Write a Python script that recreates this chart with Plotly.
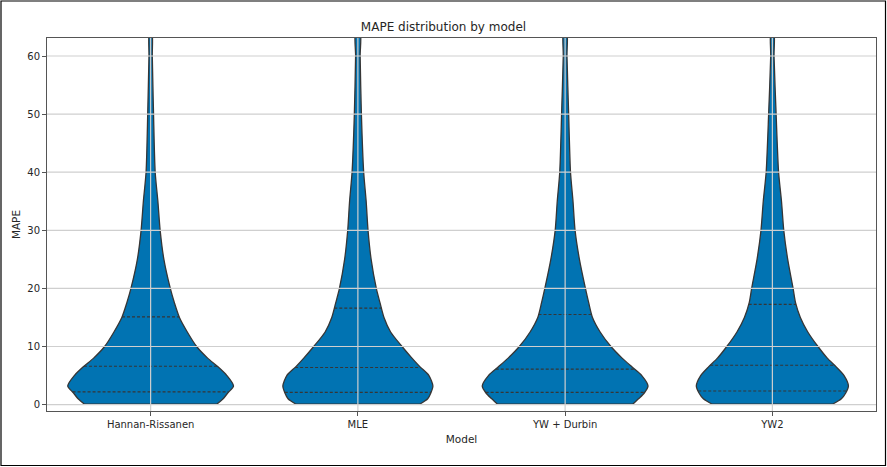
import numpy as np
import plotly.graph_objects as go

# Violin profiles (half-width in category units at each MAPE level)
models = ["Hannan-Rissanen", "MLE", "YW + Durbin", "YW2"]
mape_levels = [0.1, 1, 2, 3.2, 5, 6.5, 8, 10, 12.5, 15, 17.5, 20, 25, 30, 35, 40, 50, 60, 64]

hw_hannan = [0.320, 0.350, 0.372, 0.400, 0.368, 0.325, 0.275, 0.222, 0.177, 0.139, 0.115,
             0.095, 0.064, 0.046, 0.035, 0.022, 0.014, 0.008, 0.006]
hw_mle = [0.300, 0.337, 0.352, 0.362, 0.343, 0.300, 0.261, 0.213, 0.158, 0.126, 0.107,
          0.089, 0.064, 0.049, 0.040, 0.028, 0.017, 0.011, 0.011]
hw_ywd = [0.327, 0.354, 0.382, 0.400, 0.370, 0.322, 0.275, 0.221, 0.169, 0.132, 0.114,
          0.098, 0.069, 0.048, 0.038, 0.026, 0.017, 0.009, 0.008]
hw_yw2 = [0.292, 0.333, 0.354, 0.367, 0.346, 0.308, 0.265, 0.220, 0.171, 0.135, 0.112,
          0.100, 0.074, 0.055, 0.044, 0.030, 0.018, 0.008, 0.007]

# quartiles (Q1, median, Q3) per model
quartiles = {
    "Hannan-Rissanen": [2.2, 6.6, 15.1],
    "MLE": [2.1, 6.4, 16.6],
    "YW + Durbin": [2.1, 6.1, 15.5],
    "YW2": [2.35, 6.77, 17.25],
}
y_ticks = [0, 10, 20, 30, 40, 50, 60]

profiles = [hw_hannan, hw_mle, hw_ywd, hw_yw2]

_FILL = "#0173b2"
_EDGE = "#363636"
_GRID = "#cfcfcf"
_TEXT = "#262626"
_FONT = "DejaVu Sans"

fig = go.Figure()

for i, (name, hw) in enumerate(zip(models, profiles)):
    # right side going up, left side coming down; bottom corners doubled to keep them sharp
    ys = [mape_levels[0]] + list(mape_levels) + list(reversed(mape_levels)) + [mape_levels[0]] * 2
    xs = ([i + hw[0]] + [i + w for w in hw] + [i - w for w in reversed(hw)]
          + [i - hw[0], i + hw[0]])
    fig.add_trace(go.Scatter(
        x=xs, y=ys, mode="lines", fill="toself", fillcolor=_FILL,
        line=dict(color=_EDGE, width=1.3, shape="spline", smoothing=0.7),
        name=name, showlegend=False, hoverinfo="skip",
    ))
    for q in quartiles[name]:
        w = float(np.interp(q, mape_levels, hw))
        fig.add_trace(go.Scatter(
            x=[i - w, i + w], y=[q, q], mode="lines",
            line=dict(color=_EDGE, width=1.1, dash="3px,2px"),
            showlegend=False, hoverinfo="skip",
        ))

# matplotlib draws its grid over the violins, so the grid goes in as shapes on top
grid = [dict(type="line", xref="paper", x0=0, x1=1, yref="y", y0=t, y1=t,
             line=dict(color=_GRID, width=1.2), layer="above") for t in y_ticks]
grid += [dict(type="line", xref="x", x0=i, x1=i, yref="paper", y0=0, y1=1,
              line=dict(color=_GRID, width=1.2), layer="above") for i in range(len(models))]

axis_common = dict(
    showgrid=False, zeroline=False,
    showline=True, linecolor="#555555", linewidth=1, mirror=True,
    ticks="outside", ticklen=4, tickcolor="#555555",
    tickfont=dict(family=_FONT, size=10, color=_TEXT),
    layer="above traces",
)

fig.update_xaxes(
    range=[-0.5, 3.5], tickvals=list(range(len(models))), ticktext=models,
    title=dict(text="Model", font=dict(family=_FONT, size=10.5, color=_TEXT), standoff=6),
    **axis_common,
)
fig.update_yaxes(
    range=[-1.1, 63.1], tickvals=y_ticks,
    title=dict(text="MAPE", font=dict(family=_FONT, size=10.5, color=_TEXT), standoff=4),
    **axis_common,
)

border = dict(type="rect", xref="paper", yref="paper",
              x0=(1 - 47) / 829, x1=(885.5 - 47) / 829,
              y0=(411 - 465.5) / 373, y1=(411 - 1) / 373,
              line=dict(color="black", width=1.2), fillcolor="rgba(0,0,0,0)")

fig.update_layout(
    width=887, height=467,
    paper_bgcolor="white", plot_bgcolor="white",
    margin=dict(l=47, r=11, t=38, b=56),
    title=dict(text="MAPE distribution by model", x=0.5, xanchor="center",
               y=1 - 27 / 467, yanchor="middle",
               font=dict(family=_FONT, size=12, color=_TEXT)),
    font=dict(family=_FONT, color=_TEXT),
    shapes=grid + [border],
)

fig.write_html("out.html", config={"displayModeBar": False},
               post_script="document.body.style.margin='0';")
